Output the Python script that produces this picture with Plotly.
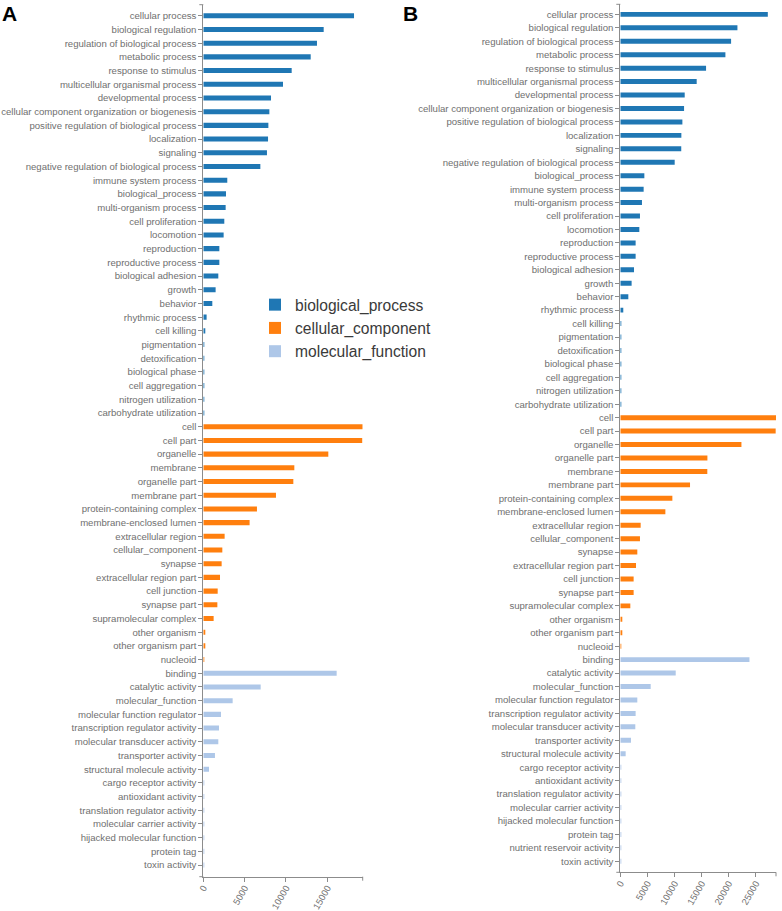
import plotly.graph_objects as go

# ---- panel A ----
bp_terms_a = ['cellular process', 'biological regulation', 'regulation of biological process',
              'metabolic process', 'response to stimulus', 'multicellular organismal process',
              'developmental process', 'cellular component organization or biogenesis',
              'positive regulation of biological process', 'localization', 'signaling',
              'negative regulation of biological process', 'immune system process',
              'biological_process', 'multi-organism process', 'cell proliferation', 'locomotion',
              'reproduction', 'reproductive process', 'biological adhesion', 'growth', 'behavior',
              'rhythmic process', 'cell killing', 'pigmentation', 'detoxification',
              'biological phase', 'cell aggregation', 'nitrogen utilization',
              'carbohydrate utilization']
bp_counts_a = [18230, 14560, 13750, 12990, 10690, 9640, 8190, 7990, 7870, 7830, 7700, 6900,
               2900, 2745, 2705, 2540, 2460, 1940, 1940, 1815, 1490, 1090, 400, 150,
               30, 20, 10, 8, 5, 3]

cc_terms_a = ['cell', 'cell part', 'organelle', 'membrane', 'organelle part', 'membrane part',
              'protein-containing complex', 'membrane-enclosed lumen', 'extracellular region',
              'cellular_component', 'synapse', 'extracellular region part', 'cell junction',
              'synapse part', 'supramolecular complex', 'other organism', 'other organism part',
              'nucleoid']
cc_counts_a = [19280, 19230, 15120, 11010, 10890, 8790, 6490, 5600, 2580, 2300, 2220, 2020,
               1740, 1700, 1250, 200, 200, 10]

mf_terms_a = ['binding', 'catalytic activity', 'molecular_function',
              'molecular function regulator', 'transcription regulator activity',
              'molecular transducer activity', 'transporter activity',
              'structural molecule activity', 'cargo receptor activity', 'antioxidant activity',
              'translation regulator activity', 'molecular carrier activity',
              'hijacked molecular function', 'protein tag', 'toxin activity']
mf_counts_a = [16130, 6940, 3550, 2140, 1900, 1815, 1410, 690, 20, 15, 12, 8, 5, 3, 2]

# ---- panel B ----
bp_terms_b = ['cellular process', 'biological regulation', 'regulation of biological process',
              'metabolic process', 'response to stimulus', 'multicellular organismal process',
              'developmental process', 'cellular component organization or biogenesis',
              'positive regulation of biological process', 'localization', 'signaling',
              'negative regulation of biological process', 'biological_process',
              'immune system process', 'multi-organism process', 'cell proliferation',
              'locomotion', 'reproduction', 'reproductive process', 'biological adhesion',
              'growth', 'behavior', 'rhythmic process', 'cell killing', 'pigmentation',
              'detoxification', 'biological phase', 'cell aggregation', 'nitrogen utilization',
              'carbohydrate utilization']
bp_counts_b = [27230, 21620, 20450, 19400, 15830, 14100, 11890, 11770, 11460, 11270, 11250,
               10040, 4440, 4310, 4000, 3630, 3510, 2830, 2830, 2530, 2090, 1480, 550, 180,
               60, 50, 15, 10, 6, 4]

cc_terms_b = ['cell', 'cell part', 'organelle', 'organelle part', 'membrane', 'membrane part',
              'protein-containing complex', 'membrane-enclosed lumen', 'extracellular region',
              'cellular_component', 'synapse', 'extracellular region part', 'cell junction',
              'synapse part', 'supramolecular complex', 'other organism', 'other organism part',
              'nucleoid']
cc_counts_b = [28740, 28680, 22360, 16080, 16060, 12870, 9610, 8320, 3760, 3630, 3140, 2900,
               2460, 2460, 1850, 250, 250, 12]

mf_terms_b = ['binding', 'catalytic activity', 'molecular_function',
              'molecular function regulator', 'transcription regulator activity',
              'molecular transducer activity', 'transporter activity',
              'structural molecule activity', 'cargo receptor activity', 'antioxidant activity',
              'translation regulator activity', 'molecular carrier activity',
              'hijacked molecular function', 'protein tag', 'nutrient reservoir activity',
              'toxin activity']
mf_counts_b = [23840, 10230, 5610, 3140, 2830, 2770, 1970, 990, 25, 20, 15, 10, 8, 5, 3, 2]

x_ticks = [0, 5000, 10000, 15000, 20000, 25000]

group_names = ['biological_process', 'cellular_component', 'molecular_function']
group_colors = ['#1f77b4', '#ff7f0e', '#aec7e8']

W, H = 782, 911
label_grey = '#6f6f6f'
axis_grey = '#8c8c8c'
font_family = 'Liberation Sans, Arial, sans-serif'

fig = go.Figure()

panels = [
    ('x', 'y', [(bp_terms_a, bp_counts_a), (cc_terms_a, cc_counts_a), (mf_terms_a, mf_counts_a)], True),
    ('x2', 'y2', [(bp_terms_b, bp_counts_b), (cc_terms_b, cc_counts_b), (mf_terms_b, mf_counts_b)], False),
]

for xa, ya, groups, legend in panels:
    for (terms, counts), name, color in zip(groups, group_names, group_colors):
        fig.add_trace(go.Bar(
            y=terms, x=counts, orientation='h', name=name,
            marker=dict(color=color, line=dict(width=0)),
            width=0.37, xaxis=xa, yaxis=ya, showlegend=legend,
            hovertemplate='%{y}: %{x}<extra>' + name + '</extra>'))


def y_axis(order, domain, anchor, pad_top, pad_bottom):
    return dict(domain=domain, anchor=anchor, type='category',
                categoryorder='array', categoryarray=order,
                range=[len(order) - 1 + pad_bottom, -pad_top],
                showline=True, linecolor=axis_grey, linewidth=1,
                ticks='outside', ticklen=4, tickcolor=axis_grey, tickwidth=1,
                tickfont=dict(size=9.6, color=label_grey, family=font_family),
                showgrid=False, zeroline=False, automargin=False)


def x_axis(top, domain, anchor):
    return dict(domain=domain, anchor=anchor, range=[0, top],
                tickvals=[t for t in x_ticks if t <= top], tickformat='d',
                tickangle=-60, ticklabelstandoff=-3,
                showline=True, linecolor=axis_grey, linewidth=1,
                ticks='outside', ticklen=4, tickcolor=axis_grey, tickwidth=1,
                tickfont=dict(size=9.4, color=label_grey, family=font_family),
                showgrid=False, zeroline=False, automargin=False)


order_a = bp_terms_a + cc_terms_a + mf_terms_a
order_b = bp_terms_b + cc_terms_b + mf_terms_b
max_a = max(bp_counts_a + cc_counts_a + mf_counts_a)
max_b = max(bp_counts_b + cc_counts_b + mf_counts_b)

# outer ticks at the ends of each axis line (d3 style)
end_ticks = []
for xd, yd in [('x domain', 'y domain'), ('x2 domain', 'y2 domain')]:
    for yv in (0, 1):
        end_ticks.append(dict(type='line', xref=xd, yref=yd, xsizemode='pixel', xanchor=0,
                              x0=0, x1=-4, y0=yv, y1=yv,
                              line=dict(color=axis_grey, width=1)))
    end_ticks.append(dict(type='line', xref=xd, yref=yd, ysizemode='pixel', yanchor=0,
                          x0=1, x1=1, y0=0, y1=-4, line=dict(color=axis_grey, width=1)))

fig.update_layout(
    width=W, height=H,
    margin=dict(l=0, r=0, t=0, b=0),
    plot_bgcolor='white', paper_bgcolor='white',
    font=dict(family=font_family),
    bargap=0.6,
    xaxis=x_axis(max_a, [203.3 / W, 362.7 / W], 'y'),
    yaxis=y_axis(order_a, [1 - 876.7 / H, 1 - 4.7 / H], 'x', 0.81, 0.85),
    xaxis2=x_axis(max_b, [620.3 / W, 776.0 / W], 'y2'),
    yaxis2=y_axis(order_b, [1 - 872.3 / H, 1 - 4.3 / H], 'x2', 0.75, 0.82),
    legend=dict(x=255 / W, y=1 - 288 / H, xanchor='left', yanchor='top',
                font=dict(size=15.6, color='#3a3a3a', family=font_family),
                bgcolor='rgba(0,0,0,0)', traceorder='normal', itemclick=False),
    shapes=end_ticks,
    annotations=[
        dict(text='<b>A</b>', x=0, y=1, xref='paper', yref='paper',
             xanchor='left', yanchor='top', showarrow=False,
             font=dict(size=21, color='black', family=font_family)),
        dict(text='<b>B</b>', x=401 / W, y=1, xref='paper', yref='paper',
             xanchor='left', yanchor='top', showarrow=False,
             font=dict(size=21, color='black', family=font_family)),
    ],
)

# drop the browser's default body margin so the figure sits at the page corner
fig.write_html("out.html", config={'displayModeBar': False},
               post_script="document.body.style.margin = '0';")
